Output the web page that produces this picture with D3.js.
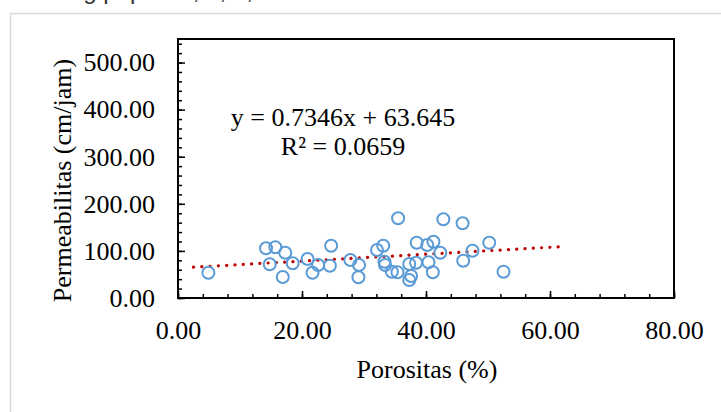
<!DOCTYPE html>
<html>
<head>
<meta charset="utf-8">
<script src="https://cdn.jsdelivr.net/npm/d3@7"></script>
<style>
  body { margin: 0; background: #fff; }
  svg text { font-family: "Liberation Serif", "Times New Roman", serif; fill: #000; }
</style>
</head>
<body>
<div id="chart"></div>
<script>
// porositas (%) vs permeabilitas (cm/jam)
const porositas = [4.9, 14.2, 15.7, 14.8, 17.3, 16.9, 18.5, 20.9, 21.7, 22.6, 24.7, 24.5,
  27.8, 29.2, 29.1, 32.1, 33.1, 33.3, 33.4, 34.5, 35.4, 35.5, 37.3, 37.6, 37.3, 38.4,
  38.5, 40.2, 40.4, 41.2, 41.1, 42.3, 42.8, 45.9, 46.0, 47.5, 50.2, 52.5];
const permeabilitas = [53.7, 105.5, 107.7, 71.6, 96.2, 44.6, 73.7, 82.8, 53.7, 70.1, 111.1, 68.6,
  80.7, 70.1, 44.2, 101.9, 111.1, 77.1, 70.1, 55.9, 54.6, 169.2, 72.2, 46.7, 38.2, 75.0,
  117.4, 112.5, 75.8, 119.6, 54.6, 96.2, 167.1, 158.6, 79.2, 100.4, 117.4, 55.9];

const xTicks = [0, 20, 40, 60, 80];
const yTicks = [0, 100, 200, 300, 400, 500];
const trendSlope = 0.7346, trendIntercept = 63.645;
const trendRange = [2.5, 61.5];
const equationLines = ["y = 0.7346x + 63.645", "R\u00B2 = 0.0659"];

const W = 721, H = 412;
const pLeft = 178, pRight = 674, pTop = 39, pBottom = 298;

const svg = d3.select('#chart').append('svg')
    .attr('width', W).attr('height', H);

// bits of the page around the chart (caption line above is cut off in the screenshot)
svg.append('text')
    .attr('x', 70).attr('y', -1)
    .style('font-family', '"Liberation Sans", Arial, sans-serif')
    .style('font-size', '24px').style('fill', '#333')
    .text('ng populasi, a, b, c/');
svg.append('path')
    .attr('d', `M10.5,${H} V13.5 H${W}`)
    .attr('fill', 'none').attr('stroke', '#d9d9d9').attr('stroke-width', 1.5);

const x = d3.scaleLinear().domain([0, 80]).range([pLeft, pRight]);
const y = d3.scaleLinear().domain([0, 550]).range([pBottom, pTop]);

// minor ticks (inside)
svg.append('g').attr('transform', `translate(0,${pBottom})`)
    .call(d3.axisBottom(x).tickValues(d3.range(0, 81, 4)).tickSizeInner(-4).tickFormat(''))
    .call(g => g.select('.domain').remove())
    .selectAll('line').attr('stroke', '#000').attr('stroke-width', 1.5);
svg.append('g').attr('transform', `translate(${pLeft},0)`)
    .call(d3.axisLeft(y).tickValues(d3.range(0, 551, 20)).tickSizeInner(-4).tickFormat(''))
    .call(g => g.select('.domain').remove())
    .selectAll('line').attr('stroke', '#000').attr('stroke-width', 1.5);

// major ticks + labels
const xAxis = svg.append('g').attr('transform', `translate(0,${pBottom})`)
    .call(d3.axisBottom(x).tickValues(xTicks).tickSizeInner(-7).tickPadding(23).tickFormat(d3.format('.2f')));
xAxis.select('.domain').remove();
xAxis.selectAll('line').attr('stroke', '#000').attr('stroke-width', 1.5);
xAxis.attr('font-family', null).attr('font-size', null);
xAxis.selectAll('text').style('font-size', '26px');

const yAxis = svg.append('g').attr('transform', `translate(${pLeft},0)`)
    .call(d3.axisLeft(y).tickValues(yTicks).tickSizeInner(-7).tickPadding(23).tickFormat(d3.format('.2f')));
yAxis.select('.domain').remove();
yAxis.selectAll('line').attr('stroke', '#000').attr('stroke-width', 1.5);
yAxis.attr('font-family', null).attr('font-size', null);
yAxis.selectAll('text').style('font-size', '26px');

// plot frame
svg.append('rect')
    .attr('x', pLeft).attr('y', pTop)
    .attr('width', pRight - pLeft).attr('height', pBottom - pTop)
    .attr('fill', 'none').attr('stroke', '#000').attr('stroke-width', 2);

// trendline
const line = d3.line().x(d => x(d)).y(d => y(trendSlope * d + trendIntercept));
svg.append('path')
    .attr('d', line(trendRange))
    .attr('fill', 'none').attr('stroke', '#c00000')
    .attr('stroke-width', 3.2).attr('stroke-linecap', 'round')
    .attr('stroke-dasharray', '0.1 8.2');

// points
svg.append('g').selectAll('circle')
    .data(porositas.map((p, i) => [p, permeabilitas[i]]))
    .join('circle')
    .attr('cx', d => x(d[0])).attr('cy', d => y(d[1]))
    .attr('r', 6)
    .attr('fill', 'none').attr('stroke', '#5b9bd5').attr('stroke-width', 2);

// equation
svg.append('g').selectAll('text')
    .data(equationLines)
    .join('text')
    .attr('x', 343).attr('y', (d, i) => 126 + i * 29)
    .attr('text-anchor', 'middle').style('font-size', '26px')
    .text(d => d);

// axis titles
svg.append('text')
    .attr('x', 427).attr('y', 378)
    .attr('text-anchor', 'middle').style('font-size', '26px')
    .text('Porositas (%)');
svg.append('text')
    .attr('transform', `translate(71,${(pTop + pBottom) / 2 + 12}) rotate(-90)`)
    .attr('text-anchor', 'middle').style('font-size', '26px')
    .text('Permeabilitas (cm/jam)');
</script>
</body>
</html>
